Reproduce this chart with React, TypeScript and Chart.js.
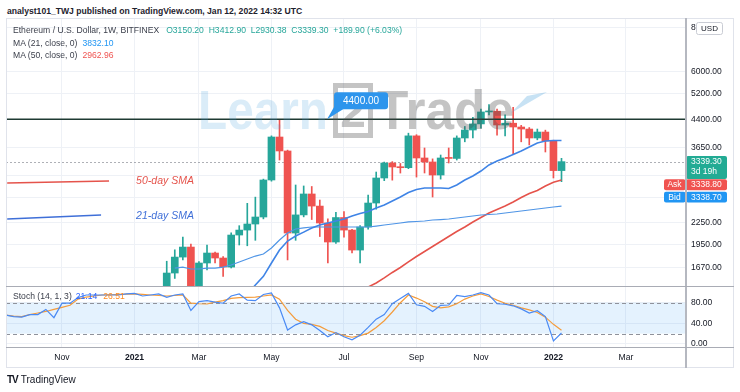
import React, { useEffect, useRef } from 'react';
import { Chart, registerables } from 'chart.js';

Chart.register(...registerables);

const FONT = '"Liberation Sans", Arial, sans-serif';

// Week index: 0 = week of 1 Feb 2021 ... 49 = week of 10 Jan 2022
const CANDLE_WEEKS = Array.from({ length: 50 }, (_, i) => i);
const OPEN = [1314, 1616, 1793, 1914, 1416, 1725, 1841, 1782, 1680, 2070, 2138, 2224, 2328, 2963, 3921, 3580, 2097, 2360, 2705, 2500, 2239, 1978, 2320, 2138, 1877, 2181, 2550, 3002, 3310, 3225, 3210, 3950, 3420, 3332, 3061, 3420, 3410, 3896, 4104, 4270, 4616, 4640, 4240, 4290, 4185, 4130, 3896, 4050, 3820, 3150.2];
const HIGH = [1745, 1880, 2043, 1950, 1740, 1940, 1853, 1800, 2100, 2200, 2545, 2650, 2980, 3950, 4380, 3600, 2868, 2850, 2840, 2600, 2300, 2400, 2410, 2150, 2200, 2686, 3121, 3330, 3340, 3300, 4020, 3980, 3650, 3400, 3487, 3650, 3950, 4200, 4460, 4700, 4845, 4700, 4530, 4760, 4230, 4170, 4130, 4100, 3840, 3412.9];
const LOW = [1290, 1560, 1759, 1300, 1400, 1648, 1725, 1580, 1670, 1940, 1930, 2000, 2300, 2940, 3375, 1760, 2000, 2330, 2290, 2050, 1725, 1960, 2040, 1841, 1725, 2150, 2450, 2950, 2960, 3100, 3190, 3020, 3101, 2652, 2980, 3310, 3375, 3800, 3900, 4150, 4526, 3970, 3950, 3500, 3800, 3723, 3850, 3556, 3002, 2930.38];
const CLOSE = [1616, 1793, 1914, 1416, 1725, 1841, 1782, 1680, 2070, 2138, 2224, 2328, 2963, 3921, 3580, 2097, 2360, 2705, 2500, 2239, 1978, 2320, 2138, 1877, 2181, 2550, 3002, 3310, 3225, 3210, 3950, 3420, 3332, 3061, 3420, 3410, 3896, 4104, 4270, 4616, 4640, 4240, 4290, 4185, 4130, 3896, 4050, 3820, 3150.2, 3339.3];

const MA21 = [null, null, null, null, null, null, null, null, null, 1330, 1410, 1494, 1581, 1725, 1877, 1991, 2056, 2110, 2166, 2210, 2239, 2268, 2298, 2343, 2382, 2413, 2469, 2517, 2583, 2652, 2730, 2785, 2812, 2812, 2812, 2803, 2868, 2963, 3041, 3141, 3268, 3353, 3420, 3500, 3580, 3673, 3770, 3820, 3833, 3832.1];
const MA50 = [null, null, null, null, null, null, null, null, null, null, null, null, null, null, null, null, null, null, null, null, null, null, null, null, 1430, 1475, 1514, 1565, 1622, 1675, 1737, 1800, 1860, 1921, 1984, 2050, 2118, 2181, 2254, 2320, 2390, 2445, 2500, 2566, 2643, 2713, 2766, 2850, 2920, 2962.96];
const SLOW_LINE = [null, 1669, 1680, 1659, 1659, 1669, 1669, 1680, 1703, 1737, 1770, 1805, 1829, 1902, 2004, 2097, 2153, 2170, 2181, 2181, 2181, 2181, 2181, 2181, 2181, 2181, 2195, 2210, 2224, 2239, 2254, 2261, 2268, 2283, 2290, 2298, 2313, 2328, 2343, 2359, 2366, 2374, 2390, 2405, 2421, 2437, 2453, 2469, 2485, 2500];

// Stochastic: weeks -20 (Sep 2020) ... 49
const STOCH_WEEKS = Array.from({ length: 70 }, (_, i) => i - 20);
const STOCH_K = [56, 53, 52, 57, 57, 67, 51, 79, 79, 90, 95, 95, 95, 95, 95, 97, 98, 93, 95, 97,
  90.5, 95, 97, 65, 82, 84, 81, 79, 93, 97, 85, 84, 96, 99, 70, 27, 37, 43, 37, 26, 14, 22, 14, 8, 17, 32, 48, 57, 78, 88, 98, 76, 73, 63, 75, 75.5, 94, 92, 95, 99.5, 95, 78, 77, 74, 68, 60, 64.5, 53, 6, 21.14];
const STOCH_D = [56, 54, 53, 57, 60, 63, 67, 71, 75, 87, 91, 93, 95, 95.5, 96, 96.5, 97, 96, 95, 94,
  93, 94, 95, 79, 78, 77.5, 81, 84, 88.5, 90, 90.5, 91, 93, 95, 87, 65, 48, 40, 38, 34, 26, 21, 16, 13, 16, 21, 32, 45, 62, 80, 95, 89, 82, 73, 70, 72, 78, 87, 93, 97, 92, 85, 79, 75, 70, 66, 61, 52, 38, 26.51];

const MONTH_TICKS = [-13, -4, 4, 13, 22, 31, 39, 48, 57];
const MONTH_LABELS = ['Nov', '2021', 'Mar', 'May', 'Jul', 'Sep', 'Nov', '2022', 'Mar'];
const PRICE_TICKS = [1670, 1950, 2250, 2650, 3050, 3650, 4400, 5200, 6000, 8000];
const STOCH_TICKS = [0, 40, 80];

const X_MIN = -19.95;
const X_MAX = 64.33;
const PRICE_MIN = 1485;
const PRICE_MAX = 8515;

const LEVEL_PRICE = 4400;
const CALLOUT_K = 19.9;
const LAST_PRICE = 3339.3;
const ASK_PRICE = 3338.8;
const BID_PRICE = 3338.7;

// analyst annotation drawings (week index, price)
const ANN50_K = [-19.8, -7.16];
const ANN50_P = [2905, 2944];
const ANN21_K = [-19.8, -8.15];
const ANN21_P = [2298, 2359];
const ANN_TEXT_K = -3.8;
const ANN50_TEXT_P = 2944;
const ANN21_TEXT_P = 2343;

const UP = '#26a69a';
const DOWN = '#ef5350';
const GRID = '#eef1f6';

function roundRect(ctx: any, x: number, y: number, w: number, h: number, r: number) {
  ctx.beginPath();
  ctx.moveTo(x + r, y);
  ctx.lineTo(x + w - r, y);
  ctx.quadraticCurveTo(x + w, y, x + w, y + r);
  ctx.lineTo(x + w, y + h - r);
  ctx.quadraticCurveTo(x + w, y + h, x + w - r, y + h);
  ctx.lineTo(x + r, y + h);
  ctx.quadraticCurveTo(x, y + h, x, y + h - r);
  ctx.lineTo(x, y + r);
  ctx.quadraticCurveTo(x, y, x + r, y);
  ctx.closePath();
}

const priceOverlay = {
  id: 'priceOverlay',
  beforeDatasetsDraw(chart: any) {
    const { ctx, chartArea: a, scales } = chart;
    const py = Math.round(scales.y.getPixelForValue(LAST_PRICE)) + 0.5;
    ctx.save();
    ctx.strokeStyle = 'rgba(120,123,134,0.6)';
    ctx.setLineDash([2, 2]);
    ctx.lineWidth = 1;
    ctx.beginPath();
    ctx.moveTo(a.left, py);
    ctx.lineTo(a.right, py);
    ctx.stroke();
    ctx.restore();
  },
  afterDatasetsDraw(chart: any) {
    const { ctx, chartArea: a, scales } = chart;
    const x = scales.x, y = scales.y;
    const ly = y.getPixelForValue(LEVEL_PRICE);
    ctx.save();
    ctx.strokeStyle = '#1e3a32';
    ctx.lineWidth = 1.6;
    ctx.beginPath();
    ctx.moveTo(a.left, ly);
    ctx.lineTo(a.right, ly);
    ctx.stroke();
    ctx.font = `italic 10.5px ${FONT}`;
    ctx.textBaseline = 'middle';
    ctx.textAlign = 'left';
    ctx.fillStyle = '#e5534b';
    ctx.fillText('50-day SMA', x.getPixelForValue(ANN_TEXT_K), y.getPixelForValue(ANN50_TEXT_P));
    ctx.fillStyle = '#3f6fd8';
    ctx.fillText('21-day SMA', x.getPixelForValue(ANN_TEXT_K), y.getPixelForValue(ANN21_TEXT_P));
    ctx.restore();
  },
  afterDraw(chart: any) {
    const { ctx, chartArea: a, scales } = chart;
    const x = scales.x, y = scales.y;
    ctx.save();
    // watermark
    ctx.textBaseline = 'alphabetic';
    ctx.textAlign = 'left';
    ctx.font = `bold 56px ${FONT}`;
    ctx.fillStyle = 'rgba(70,160,220,0.2)';
    ctx.fillText('Learn', 192, 111, 130);
    ctx.strokeStyle = 'rgba(70,70,70,0.32)';
    ctx.lineWidth = 5;
    ctx.strokeRect(329.5, 67.5, 35, 50);
    ctx.fillStyle = 'rgba(70,70,70,0.32)';
    ctx.font = `bold 46px ${FONT}`;
    ctx.textAlign = 'center';
    ctx.fillText('2', 347, 109);
    ctx.textAlign = 'left';
    ctx.font = `bold 56px ${FONT}`;
    ctx.fillText('Trade', 371, 111, 137);
    ctx.fillStyle = 'rgba(70,160,220,0.3)';
    ctx.beginPath();
    ctx.moveTo(505, 95);
    ctx.lineTo(541, 74);
    ctx.lineTo(521, 78);
    ctx.closePath();
    ctx.fill();

    // callout 4400.00
    const px = x.getPixelForValue(CALLOUT_K);
    const py = y.getPixelForValue(LEVEL_PRICE);
    ctx.fillStyle = '#2e95ec';
    ctx.beginPath();
    ctx.moveTo(px, py);
    ctx.lineTo(px + 8, py - 14);
    ctx.lineTo(px + 16, py - 10);
    ctx.closePath();
    ctx.fill();
    roundRect(ctx, px + 7, py - 27, 54, 17, 3);
    ctx.fill();
    ctx.fillStyle = '#ffffff';
    ctx.font = `10px ${FONT}`;
    ctx.textAlign = 'center';
    ctx.textBaseline = 'middle';
    ctx.fillText(LEVEL_PRICE.toFixed(2), px + 34, py - 18.5);

    // price axis labels
    const r = a.right;
    const yl = y.getPixelForValue(LAST_PRICE);
    ctx.textAlign = 'left';
    ctx.font = `8.5px ${FONT}`;
    ctx.fillStyle = '#22ab94';
    roundRect(ctx, r + 1, yl - 5.6, 41, 23, 2);
    ctx.fill();
    ctx.fillStyle = '#fff';
    ctx.fillText(LAST_PRICE.toFixed(2), r + 6, yl);
    ctx.fillText('3d 19h', r + 6, yl + 10.5);
    ctx.fillStyle = '#f05350';
    roundRect(ctx, r + 1, yl + 17.6, 41, 11, 2);
    ctx.fill();
    roundRect(ctx, r - 21, yl + 17.6, 21.5, 11, 2);
    ctx.fill();
    ctx.fillStyle = '#2196f3';
    roundRect(ctx, r + 1, yl + 30.2, 41, 10.6, 2);
    ctx.fill();
    roundRect(ctx, r - 21, yl + 30.2, 21.5, 10.6, 2);
    ctx.fill();
    ctx.fillStyle = '#fff';
    ctx.fillText(ASK_PRICE.toFixed(2), r + 6, yl + 23.3);
    ctx.fillText(BID_PRICE.toFixed(2), r + 6, yl + 35.6);
    ctx.textAlign = 'center';
    ctx.fillText('Ask', r - 10.5, yl + 23.3);
    ctx.fillText('Bid', r - 10.5, yl + 35.6);
    // USD box
    ctx.fillStyle = '#fff';
    ctx.strokeStyle = '#c9ccd4';
    ctx.lineWidth = 1;
    roundRect(ctx, r + 11.5, 4.5, 26, 12, 2);
    ctx.fill();
    ctx.stroke();
    ctx.fillStyle = '#131722';
    ctx.font = `8px ${FONT}`;
    ctx.fillText('USD', r + 24.5, 11);
    ctx.restore();
  },
};

const stochOverlay = {
  id: 'stochOverlay',
  beforeDatasetsDraw(chart: any) {
    const { ctx, chartArea: a, scales } = chart;
    const y80 = scales.y.getPixelForValue(80);
    const y20 = scales.y.getPixelForValue(20);
    ctx.save();
    ctx.fillStyle = 'rgba(33,150,243,0.12)';
    ctx.fillRect(a.left, y80, a.right - a.left, y20 - y80);
    ctx.strokeStyle = '#8f929b';
    ctx.setLineDash([4, 3]);
    ctx.lineWidth = 1;
    [y80, y20].forEach((yy: number) => {
      ctx.beginPath();
      ctx.moveTo(a.left, Math.round(yy) + 0.5);
      ctx.lineTo(a.right, Math.round(yy) + 0.5);
      ctx.stroke();
    });
    ctx.restore();
  },
};

const monthTicks = (s: any) => {
  s.ticks = MONTH_TICKS.map((v) => ({ value: v }));
};

export default function App() {
  const priceRef = useRef<HTMLCanvasElement>(null);
  const stochRef = useRef<HTMLCanvasElement>(null);

  useEffect(() => {
    const candleColors = CLOSE.map((c, i) => (c >= OPEN[i] ? UP : DOWN));
    const line = (data: any[], color: string, width: number) => ({
      type: 'line' as const,
      data,
      borderColor: color,
      borderWidth: width,
      pointRadius: 0,
      tension: 0,
      fill: false,
      order: 1,
    });

    const priceChart = new Chart(priceRef.current as HTMLCanvasElement, {
      type: 'bar',
      data: {
        datasets: [
          line(MA21.map((v, i) => ({ x: CANDLE_WEEKS[i], y: v })), '#3f84e6', 1.6),
          line(SLOW_LINE.map((v, i) => ({ x: CANDLE_WEEKS[i], y: v })), '#4f95e6', 1.2),
          line(MA50.map((v, i) => ({ x: CANDLE_WEEKS[i], y: v })), '#e5534b', 1.6),
          line(ANN50_K.map((k, i) => ({ x: k, y: ANN50_P[i] })), '#e5534b', 1.6),
          line(ANN21_K.map((k, i) => ({ x: k, y: ANN21_P[i] })), '#3f6fd8', 1.6),
          {
            type: 'bar',
            data: CANDLE_WEEKS.map((k, i) => ({ x: k, y: [LOW[i], HIGH[i]] })) as any,
            backgroundColor: candleColors,
            barThickness: 1,
            grouped: false,
            order: 5,
          },
          {
            type: 'bar',
            data: CANDLE_WEEKS.map((k, i) => ({ x: k, y: [OPEN[i], CLOSE[i]] })) as any,
            backgroundColor: candleColors,
            barThickness: 7,
            minBarLength: 1,
            grouped: false,
            order: 4,
          },
        ] as any,
      },
      options: {
        animation: false,
        responsive: false,
        events: [],
        layout: { padding: 0 },
        plugins: { legend: { display: false }, tooltip: { enabled: false } },
        scales: {
          x: {
            type: 'linear',
            min: X_MIN,
            max: X_MAX,
            offset: false,
            afterBuildTicks: monthTicks,
            afterFit: (s: any) => { s.height = 0; s.paddingLeft = 0; s.paddingRight = 0; },
            ticks: { display: false },
            grid: { color: GRID, drawTicks: false, offset: false },
            border: { display: false },
          },
          y: {
            type: 'logarithmic',
            position: 'right',
            min: PRICE_MIN,
            max: PRICE_MAX,
            beginAtZero: false,
            afterBuildTicks: (s: any) => { s.ticks = PRICE_TICKS.map((v) => ({ value: v })); },
            afterFit: (s: any) => { s.width = 49; s.paddingTop = 0; s.paddingBottom = 0; },
            ticks: {
              autoSkip: false,
              padding: 6,
              color: '#131722',
              font: { size: 8.5, family: FONT },
              callback: (v: any) => Number(v).toFixed(2),
            },
            grid: { color: GRID, drawTicks: false },
            border: { display: false },
          },
        },
      } as any,
      plugins: [priceOverlay],
    });

    const stochChart = new Chart(stochRef.current as HTMLCanvasElement, {
      type: 'line',
      data: {
        datasets: [
          {
            data: STOCH_WEEKS.map((k, i) => ({ x: k, y: STOCH_K[i] })),
            borderColor: '#4a8af4',
            borderWidth: 1.2,
            pointRadius: 0,
            tension: 0,
          },
          {
            data: STOCH_WEEKS.map((k, i) => ({ x: k, y: STOCH_D[i] })),
            borderColor: '#f49c3c',
            borderWidth: 1.2,
            pointRadius: 0,
            tension: 0,
          },
        ],
      },
      options: {
        animation: false,
        responsive: false,
        events: [],
        layout: { padding: 0 },
        plugins: { legend: { display: false }, tooltip: { enabled: false } },
        scales: {
          x: {
            type: 'linear',
            min: X_MIN,
            max: X_MAX,
            offset: false,
            afterBuildTicks: monthTicks,
            afterFit: (s: any) => { s.height = 21; s.paddingLeft = 0; s.paddingRight = 0; },
            ticks: {
              autoSkip: false,
              maxRotation: 0,
              padding: 5,
              color: '#131722',
              font: (c: any) => ({
                size: 8.6,
                family: FONT,
                weight: c.tick && String(c.tick.label).startsWith('20') ? 'bold' : 'normal',
              }),
              callback: (_v: any, i: number) => MONTH_LABELS[i],
            },
            grid: { color: GRID, drawTicks: false, offset: false },
            border: { display: false },
          },
          y: {
            type: 'linear',
            position: 'right',
            min: -6,
            max: 110.5,
            afterBuildTicks: (s: any) => { s.ticks = STOCH_TICKS.map((v) => ({ value: v })); },
            afterFit: (s: any) => { s.width = 49; s.paddingTop = 0; s.paddingBottom = 0; },
            ticks: {
              autoSkip: false,
              padding: 6,
              color: '#131722',
              font: { size: 8.5, family: FONT },
              callback: (v: any) => Number(v).toFixed(2),
            },
            grid: { color: GRID, drawTicks: false },
            border: { display: false },
          },
        },
      } as any,
      plugins: [stochOverlay],
    });

    return () => {
      priceChart.destroy();
      stochChart.destroy();
    };
  }, []);

  const abs = (l: number, t: number, w: number, h: number, bg: string): React.CSSProperties => ({
    position: 'absolute', left: l, top: t, width: w, height: h, background: bg,
  });
  const txt: React.CSSProperties = { position: 'absolute', whiteSpace: 'nowrap', fontSize: 8.6, lineHeight: '10px' };

  return (
    <div style={{ position: 'absolute', left: 0, top: 0, width: 740, height: 392, background: '#fff', overflow: 'hidden', fontFamily: FONT, color: '#131722' }}>
      <div style={{ ...txt, left: 7, top: 6, fontSize: 8.6, fontWeight: 600, color: '#1e222d' }}>
        analyst101_TWJ published on TradingView.com, Jan 12, 2022 14:32 UTC
      </div>
      <canvas ref={priceRef} width={728} height={268} style={{ position: 'absolute', left: 6, top: 18 }} />
      <canvas ref={stochRef} width={728} height={81} style={{ position: 'absolute', left: 6, top: 287 }} />

      <div style={{ ...txt, left: 13, top: 25, color: '#3a3e4a' }}>
        Ethereum / U.S. Dollar, 1W, BITFINEX
        <span style={{ color: '#26a69a', marginLeft: 7 }}>O3150.20&nbsp; H3412.90&nbsp; L2930.38&nbsp; C3339.30&nbsp; +189.90 (+6.03%)</span>
      </div>
      <div style={{ ...txt, left: 13, top: 38, color: '#3a3e4a' }}>
        MA (21, close, 0)<span style={{ color: '#2196f3', marginLeft: 5 }}>3832.10</span>
      </div>
      <div style={{ ...txt, left: 13, top: 50, color: '#3a3e4a' }}>
        MA (50, close, 0)<span style={{ color: '#ef5350', marginLeft: 5 }}>2962.96</span>
      </div>
      <div style={{ ...txt, left: 13, top: 291, color: '#3a3e4a' }}>
        Stoch (14, 1, 3)<span style={{ color: '#2962ff', marginLeft: 4 }}>21.14</span>
        <span style={{ color: '#ff8a1f', marginLeft: 6 }}>26.51</span>
      </div>

      <div style={abs(6, 18, 728, 1, '#e0e3eb')} />
      <div style={abs(6, 18, 1, 350, '#e0e3eb')} />
      <div style={abs(733, 18, 1, 350, '#e0e3eb')} />
      <div style={abs(6, 367, 728, 1, '#e0e3eb')} />
      <div style={abs(685, 18, 1.5, 350, '#b5b8c0')} />
      <div style={abs(6, 285.5, 728, 1.5, '#a9acb5')} />
      <div style={abs(6, 346.5, 728, 1.5, '#a9acb5')} />

      <div style={{ ...txt, left: 7, top: 375, fontSize: 10, color: '#131722' }}>
        <span style={{ fontWeight: 900, letterSpacing: -1, marginRight: 3 }}>TV</span>TradingView
      </div>
    </div>
  );
}
